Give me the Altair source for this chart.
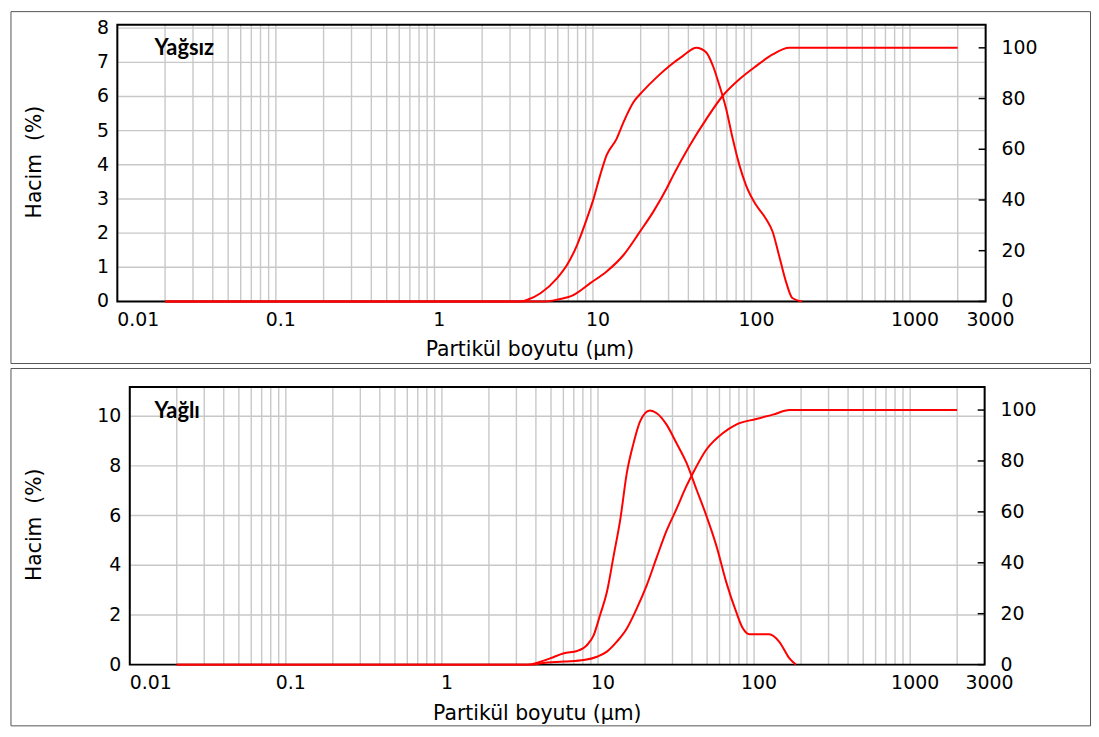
import altair as alt
import pandas as pd

# ---------------- data ----------------
x_tick_values = [0.01, 0.1, 1, 10, 100, 1000, 3000]
x_tick_labels = ["0.01", "0.1", "1", "10", "100", "1000", "3000"]
x_grid_values = [0.01, 0.02, 0.03, 0.04, 0.05, 0.06, 0.07, 0.08, 0.09,
                 0.1, 0.2, 0.3, 0.4, 0.5, 0.6, 0.7, 0.8, 0.9,
                 1, 2, 3, 4, 5, 6, 7, 8, 9,
                 10, 20, 30, 40, 50, 60, 70, 80, 90,
                 100, 200, 300, 400, 500, 600, 700, 800, 900,
                 1000, 2000, 3000]

top_left_ticks = [0, 1, 2, 3, 4, 5, 6, 7, 8]
bot_left_ticks = [0, 2, 4, 6, 8, 10]
right_ticks = [0, 20, 40, 60, 80, 100]

# Yağsız : frequency (%) and cumulative (%)
top_freq_size = [0.02, 3.50, 3.86, 4.67, 5.95, 6.87, 7.94, 9.17, 10.1, 11.1, 12.2,
                 14.1, 15.6, 18.0, 20.8, 25.2, 30.5, 37.0, 44.9, 51.9, 57.1, 62.8,
                 69.2, 76.2, 83.9, 92.4, 107, 123, 136, 149, 165, 181, 209]
top_freq_vol = [0, 0, 0.05, 0.24, 0.68, 1.07, 1.65, 2.43, 3.01, 3.69, 4.28,
                4.76, 5.25, 5.83, 6.17, 6.56, 6.90, 7.19, 7.43, 7.29, 6.90, 6.32,
                5.64, 4.76, 3.99, 3.40, 2.82, 2.43, 2.04, 1.36, 0.58, 0.10, 0]
top_cum_size = [0.02, 5.0, 5.95, 7.57, 9.62, 12.2, 15.6, 19.8, 24.0, 29.1, 32.1,
                40.7, 51.9, 65.9, 83.9, 107, 136, 173, 2000]
top_cum_vol = [0, 0, 0.7, 2.6, 7.2, 11.8, 18.3, 27.5, 35.3, 44.4, 49.7,
               61.4, 71.9, 81.1, 87.6, 92.8, 97.4, 100, 100]

# Yağlı : frequency (%) and cumulative (%)
bot_freq_size = [0.02, 3.53, 4.29, 4.97, 6.05, 7.35, 8.51, 9.39, 10.3, 11.4, 12.6,
                 13.9, 15.3, 16.9, 18.6, 21.5, 23.8, 27.5, 31.8, 36.9, 42.7, 49.5,
                 57.3, 66.3, 76.8, 84.7, 93.3, 108, 125, 145, 168, 185]
bot_freq_vol = [0, 0, 0.12, 0.26, 0.46, 0.55, 0.79, 1.19, 1.99, 2.92, 4.39,
                5.86, 7.72, 8.92, 9.79, 10.23, 10.12, 9.66, 8.92, 8.12, 7.06, 5.99,
                4.79, 3.32, 2.12, 1.46, 1.22, 1.22, 1.22, 0.92, 0.26, 0]
bot_cum_size = [0.02, 3.8, 4.29, 6.05, 8.11, 9.86, 11.4, 13.2, 15.3, 17.7, 20.5,
                23.8, 27.5, 31.8, 36.9, 40.7, 49.5, 63.2, 76.8, 103, 132, 168, 2000]
bot_cum_vol = [0, 0, 0.5, 1.2, 1.8, 3.1, 5.1, 9.0, 14.2, 22.0, 31.1,
               42.2, 52.6, 61.1, 70.2, 75.4, 84.5, 91.0, 94.3, 96.5, 98.2, 100, 100]

# ---------------- styling ----------------
RED = "#ff0000"
FONT = "DejaVu Sans"
GRID = "#c8c8c8"
TICK_FS = 19
TITLE_FS = 20.5
one_row = pd.DataFrame({"k": [0]})


def panel(freq_x, freq_y, cum_x, cum_y, left_max, left_ticks, right_max, name,
          W, H, L, T, w, h, xtitle_x, xtitle_dy, ytitle_x, name_xy):
    xs = alt.Scale(type="log", domain=[0.01, 3000], range=[L, L + w], nice=False)
    yl = alt.Scale(domain=[0, left_max], range=[T + h, T], nice=False, zero=False)
    yr = alt.Scale(domain=[0, right_max], range=[T + h, T], nice=False, zero=False)

    vgrid = alt.Chart(pd.DataFrame({"g": x_grid_values})).mark_rule(
        color=GRID, strokeWidth=1.4).encode(
        x=alt.X("g:Q", scale=xs, axis=None), y=alt.value(T), y2=alt.value(T + h))
    hgrid = alt.Chart(pd.DataFrame({"v": left_ticks})).mark_rule(
        color=GRID, strokeWidth=1.4).encode(
        y=alt.Y("v:Q", scale=yl, axis=None), x=alt.value(L), x2=alt.value(L + w))
    border = alt.Chart(one_row).mark_rect(fillOpacity=0, stroke="black", strokeWidth=2).encode(
        x=alt.value(L), x2=alt.value(L + w), y=alt.value(T), y2=alt.value(T + h))
    rticks = alt.Chart(pd.DataFrame({"v": right_ticks})).mark_rule(
        color="black", strokeWidth=1.5).encode(
        y=alt.Y("v:Q", scale=yr, axis=None), x=alt.value(L + w - 7), x2=alt.value(L + w))

    freq = alt.Chart(pd.DataFrame({"size": freq_x, "vol": freq_y})).mark_line(
        color=RED, strokeWidth=2, interpolate="monotone").encode(
        x=alt.X("size:Q", scale=xs, axis=None),
        y=alt.Y("vol:Q", scale=yl, axis=None))
    cum = alt.Chart(pd.DataFrame({"size": cum_x, "cum": cum_y})).mark_line(
        color=RED, strokeWidth=2, interpolate="monotone").encode(
        x=alt.X("size:Q", scale=xs, axis=None),
        y=alt.Y("cum:Q", scale=yr, axis=None))

    lab_y = T + h + 24.5
    xl_first = alt.Chart(pd.DataFrame({"v": x_tick_values[:1], "t": x_tick_labels[:1]})).mark_text(
        align="left", baseline="alphabetic", font=FONT, fontSize=TICK_FS, color="black").encode(
        x=alt.X("v:Q", scale=xs, axis=None), y=alt.value(lab_y), text="t:N")
    xl_rest = alt.Chart(pd.DataFrame({"v": x_tick_values[1:], "t": x_tick_labels[1:]})).mark_text(
        align="center", baseline="alphabetic", dx=5, font=FONT, fontSize=TICK_FS,
        color="black").encode(
        x=alt.X("v:Q", scale=xs, axis=None), y=alt.value(lab_y), text="t:N")
    yl_lab = alt.Chart(pd.DataFrame({"v": left_ticks, "t": [str(v) for v in left_ticks]})).mark_text(
        align="right", baseline="middle", font=FONT, fontSize=TICK_FS, color="black").encode(
        y=alt.Y("v:Q", scale=yl, axis=None), x=alt.value(L - 8.5), text="t:N")
    yr_lab = alt.Chart(pd.DataFrame({"v": right_ticks, "t": [str(v) for v in right_ticks]})).mark_text(
        align="left", baseline="middle", font=FONT, fontSize=TICK_FS, color="black").encode(
        y=alt.Y("v:Q", scale=yr, axis=None), x=alt.value(L + w + 16), text="t:N")

    xtitle = alt.Chart(one_row).mark_text(
        text="Partikül boyutu (µm)", align="center", baseline="alphabetic", font=FONT,
        fontSize=TITLE_FS, color="black").encode(
        x=alt.value(xtitle_x), y=alt.value(T + h + xtitle_dy))
    ytitle = alt.Chart(one_row).mark_text(
        text="Hacim\u00a0\u00a0(%)", align="center", baseline="middle", angle=270,
        font=FONT, fontSize=TITLE_FS, color="black").encode(
        x=alt.value(ytitle_x), y=alt.value(T + h / 2 - 1))
    label = alt.Chart(one_row).mark_text(
        text=name, align="left", baseline="alphabetic", font="Lato",
        fontWeight="bold", fontSize=22, color="black").encode(
        x=alt.value(name_xy[0]), y=alt.value(name_xy[1]))

    return alt.layer(vgrid, hgrid, border, rticks, freq, cum,
                     xl_first, xl_rest, yl_lab, yr_lab, xtitle, ytitle, label
                     ).resolve_scale(y="independent").properties(width=W, height=H)


top = panel(top_freq_size, top_freq_vol, top_cum_size, top_cum_vol,
            8.1, top_left_ticks, 109.1, "Yağsız",
            W=1086, H=354, L=107.5, T=13.7, w=873.5, h=278.3,
            xtitle_x=522.5, xtitle_dy=54.5, ytitle_x=25, name_xy=(145, 43.7))
bot = panel(bot_freq_size, bot_freq_vol, bot_cum_size, bot_cum_vol,
            11.18, bot_left_ticks, 109.1, "Yağlı",
            W=1086, H=359.5, L=120, T=19, w=860, h=279.4,
            xtitle_x=530, xtitle_dy=55.5, ytitle_x=25, name_xy=(145, 50))

chart = alt.vconcat(top, bot, spacing=3).properties(
    padding={"left": 1.5, "top": 0, "right": 0, "bottom": 0}
).configure_view(stroke="#555555", strokeWidth=1)

chart.save("out.html", embed_options={"renderer": "svg", "actions": False})
